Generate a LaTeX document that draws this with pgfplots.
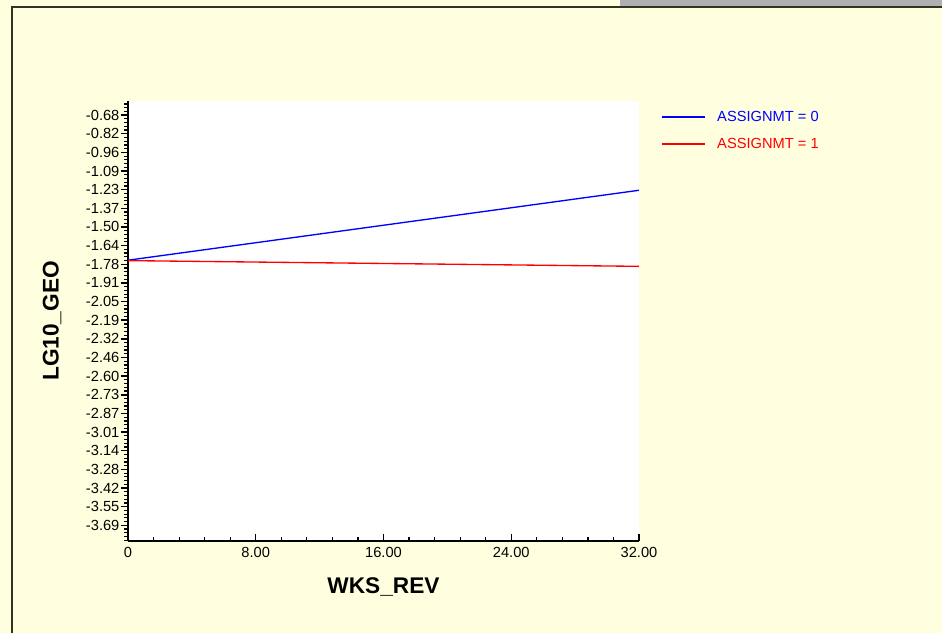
\documentclass[border=0pt]{standalone}
\usepackage{pgfplots}
\pgfplotsset{compat=1.18}
\usepackage{fontspec}
\setmainfont{Liberation Sans}
\definecolor{bg}{HTML}{FFFFE0}
\definecolor{barg}{HTML}{B0B0B0}
\definecolor{framec}{HTML}{333322}
\definecolor{lblue}{HTML}{0000FF}
\definecolor{lred}{HTML}{FF0000}
\pgfplotsset{
  /pgfplots/legend image code/.code={%
    \draw[mark repeat=2,mark phase=2,#1] plot coordinates {(0pt,0pt) (16pt,0pt) (32pt,0pt)};},
}
\begin{document}
\begin{tikzpicture}
\path[use as bounding box] (0pt,0pt) rectangle (706.5pt,474.75pt);
\fill[bg] (0pt,0pt) rectangle (706.5pt,474.75pt);
\fill[barg] (465pt,469.5pt) rectangle (706.5pt,474.75pt);
\draw[framec, line width=0.8pt] (9pt,0pt) -- (9pt,469.5pt) -- (706.5pt,469.5pt);
\begin{axis}[
  at={(96pt,69pt)}, anchor=south west,
  scale only axis,
  width=383.25pt, height=330pt,
  xmin=0, xmax=32,
  ymin=-3.805, ymax=-0.577,
  axis background/.style={fill=white},
  axis x line*=bottom, axis y line*=left,
  axis line style={line width=1.5pt, -},
  xtick={0,8,16,24,32},
  xticklabels={0,8.00,16.00,24.00,32.00},
  minor xtick={0,1.6,...,32},
  ytick={-3.69,-3.553182,-3.416364,-3.279545,-3.142727,-3.005909,-2.869091,-2.732273,-2.595455,-2.458636,-2.321818,-2.185,-2.048182,-1.911364,-1.774545,-1.637727,-1.500909,-1.364091,-1.227273,-1.090455,-0.953636,-0.816818,-0.68},
  yticklabels={-3.69,-3.55,-3.42,-3.28,-3.14,-3.01,-2.87,-2.73,-2.60,-2.46,-2.32,-2.19,-2.05,-1.91,-1.78,-1.64,-1.50,-1.37,-1.23,-1.09,-0.96,-0.82,-0.68},
  minor ytick={-3.79945,-3.77209,...,-0.57},
  xtick align=inside,
  ytick align=outside,
  major tick length=5.25pt,
  minor tick length=3pt,
  every tick/.style={black, line width=1.1pt},
  every minor tick/.style={black, line width=0.9pt},
  tick label style={font=\fontsize{11}{13}\selectfont},
  yticklabel style={inner xsep=1pt},
  xticklabel style={inner ysep=4.5pt},
  xlabel={WKS\_REV},
  ylabel={LG10\_GEO},
  every axis x label/.style={at={(axis description cs:0.5,-0.1045)}, anchor=center, font=\fontsize{17}{20}\selectfont\bfseries},
  every axis y label/.style={at={(axis description cs:-0.1487,0.5)}, anchor=center, rotate=90, font=\fontsize{17}{20}\selectfont\bfseries},
  legend style={draw=none, fill=none, at={(axis description cs:1.043,0.984)}, anchor=north west,
    inner xsep=0pt, inner ysep=0pt, font=\fontsize{11}{13}\selectfont, row sep=7pt,
    nodes={inner xsep=9pt}},
  legend cell align=left,
  clip=false,
]
\addplot[lblue, line width=1pt] coordinates {(0,-1.745) (32,-1.232)};
\addlegendentry{\textcolor{lblue}{ASSIGNMT = 0}}
\addplot[lred, line width=1pt] coordinates {(0,-1.748) (32,-1.790)};
\addlegendentry{\textcolor{lred}{ASSIGNMT = 1}}
\end{axis}
\end{tikzpicture}
\end{document}
